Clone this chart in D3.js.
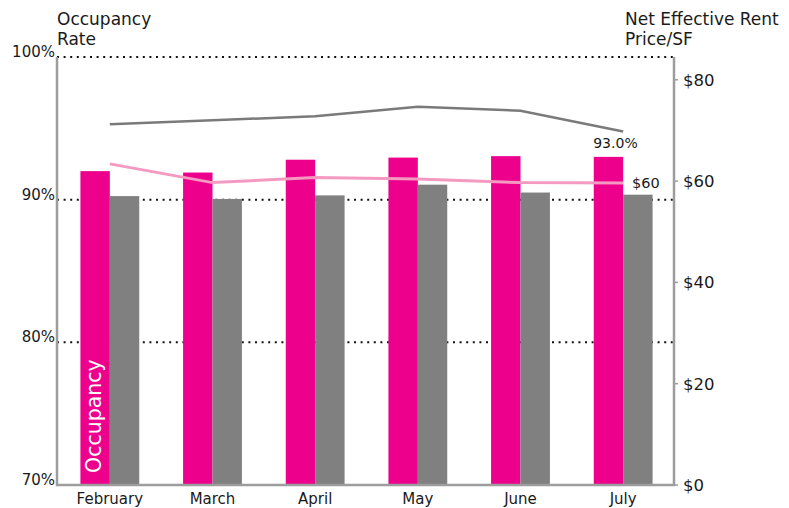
<!DOCTYPE html>
<html>
<head>
<meta charset="utf-8">
<script src="https://cdn.jsdelivr.net/npm/d3@7/dist/d3.min.js"></script>
<style>
  html, body { margin: 0; padding: 0; background: #fff; }
  svg { display: block; font-family: "DejaVu Sans", sans-serif; }
</style>
</head>
<body>
<svg id="chart" width="789" height="508"></svg>
<script>
// ---- data ----
const months = ["February", "March", "April", "May", "June", "July"];
const occupancy = [92.0, 91.9, 92.8, 92.95, 93.05, 93.0];        // pink bars, left axis (%)
const priorOccupancy = [90.25, 90.05, 90.3, 91.05, 90.5, 90.35]; // gray bars, left axis (%)
const netEffectiveRent = [63.4, 59.7, 60.7, 60.4, 59.7, 59.6];   // pink line, right axis ($)
const askingRent = [71.2, 72.0, 72.8, 74.7, 73.9, 69.8];         // gray line, right axis ($)
const leftTicks = [70, 80, 90, 100];
const rightTicks = [0, 20, 40, 60, 80];
const gridTicks = [80, 90, 100];

// ---- layout ----
const svg = d3.select("#chart");
const plotLeft = 57, plotRight = 674, plotTop = 57, plotBottom = 485;

const x0 = d3.scaleBand().domain(months).range([58.5, 674.5]).paddingInner(0.427).paddingOuter(0.2135);
const x1 = d3.scaleBand().domain(["occ", "prior"]).range([0, x0.bandwidth()]);
const yL = d3.scaleLinear().domain([70, 100]).range([plotBottom, plotTop]);
const yR = d3.scaleLinear().domain([0, 84.5]).range([plotBottom, plotTop]);

const textColor = "#1a1a1a";
const pink = "#ec008c", gray = "#808080", lightPink = "#f49ac1", lineGray = "#7a7a7a", axisGray = "#9d9d9d";

// gridlines (dotted)
svg.append("g").selectAll("line").data(gridTicks).join("line")
  .attr("x1", plotLeft).attr("x2", plotRight)
  .attr("y1", d => yL(d)).attr("y2", d => yL(d))
  .attr("stroke", "#111").attr("stroke-width", 2).attr("stroke-dasharray", "2,4.6");

// bars
const g = svg.append("g");
g.selectAll("rect.occ").data(months).join("rect").attr("class", "occ")
  .attr("x", d => x0(d) + x1("occ")).attr("width", x1.bandwidth())
  .attr("y", (d, i) => yL(occupancy[i])).attr("height", (d, i) => yL(70) - yL(occupancy[i]))
  .attr("fill", pink);
g.selectAll("rect.prior").data(months).join("rect").attr("class", "prior")
  .attr("x", d => x0(d) + x1("prior")).attr("width", x1.bandwidth())
  .attr("y", (d, i) => yL(priorOccupancy[i])).attr("height", (d, i) => yL(70) - yL(priorOccupancy[i]))
  .attr("fill", gray);

// lines at group centers
const cx = d => x0(d) + x0.bandwidth() / 2;
const lineR = d3.line().x((d, i) => cx(months[i])).y(d => yR(d));
svg.append("path").datum(askingRent).attr("d", lineR)
  .attr("fill", "none").attr("stroke", lineGray).attr("stroke-width", 2.5);
svg.append("path").datum(netEffectiveRent).attr("d", lineR)
  .attr("fill", "none").attr("stroke", lightPink).attr("stroke-width", 3);

// axes lines
svg.append("line").attr("x1", plotLeft).attr("x2", plotLeft).attr("y1", plotTop).attr("y2", plotBottom + 1)
  .attr("stroke", axisGray).attr("stroke-width", 2.5);
svg.append("line").attr("x1", plotRight).attr("x2", plotRight).attr("y1", plotTop).attr("y2", plotBottom + 1)
  .attr("stroke", axisGray).attr("stroke-width", 2.5);
svg.append("line").attr("x1", plotLeft - 1).attr("x2", plotRight + 1).attr("y1", plotBottom).attr("y2", plotBottom)
  .attr("stroke", axisGray).attr("stroke-width", 2.5);

// left axis labels
svg.append("g").selectAll("text").data(leftTicks).join("text")
  .attr("x", 55).attr("y", d => yL(d)).attr("text-anchor", "end")
  .attr("font-size", 15).attr("fill", textColor).text(d => d + "%");

// right axis ticks + labels
const rg = svg.append("g");
rg.selectAll("line").data(rightTicks).join("line")
  .attr("x1", plotRight).attr("x2", plotRight + 4)
  .attr("y1", d => yR(d)).attr("y2", d => yR(d))
  .attr("stroke", axisGray).attr("stroke-width", 1.5);
rg.selectAll("text").data(rightTicks).join("text")
  .attr("x", 683).attr("y", d => yR(d)).attr("dy", "0.36em")
  .attr("font-size", 16.5).attr("fill", textColor).text(d => "$" + d);

// x labels
svg.append("g").selectAll("text").data(months).join("text")
  .attr("x", d => cx(d)).attr("y", 504).attr("text-anchor", "middle")
  .attr("font-size", 15).attr("fill", textColor).text(d => d);

// titles
const tl = svg.append("text").attr("x", 57).attr("y", 25).attr("font-size", 17).attr("fill", textColor);
tl.append("tspan").attr("x", 57).text("Occupancy");
tl.append("tspan").attr("x", 57).attr("dy", 20).text("Rate");
const tr = svg.append("text").attr("x", 625).attr("y", 25).attr("font-size", 17).attr("fill", textColor);
tr.append("tspan").attr("x", 625).text("Net Effective Rent");
tr.append("tspan").attr("x", 625).attr("dy", 20).text("Price/SF");

// value labels (last month)
const last = months.length - 1;
svg.append("text")
  .attr("x", x0(months[last]) + x1("occ") + x1.bandwidth() / 2 + 7)
  .attr("y", yL(occupancy[last]) - 8.5).attr("text-anchor", "middle")
  .attr("font-size", 14).attr("fill", textColor).text(occupancy[last].toFixed(1) + "%");
svg.append("text")
  .attr("x", x0(months[last]) + x1("prior") + x1.bandwidth() / 2 + 8)
  .attr("y", yR(netEffectiveRent[last]) + 5).attr("text-anchor", "middle")
  .attr("font-size", 14.5).attr("fill", textColor).text("$" + Math.round(netEffectiveRent[last]));

// in-bar series label
const fx = x0(months[0]) + x1("occ");
svg.append("text")
  .attr("transform", `translate(${fx + x1.bandwidth() * 0.7},${yL(70) - 12}) rotate(-90)`)
  .attr("font-size", 20.5).attr("fill", "#fff").text("Occupancy");
</script>
</body>
</html>
